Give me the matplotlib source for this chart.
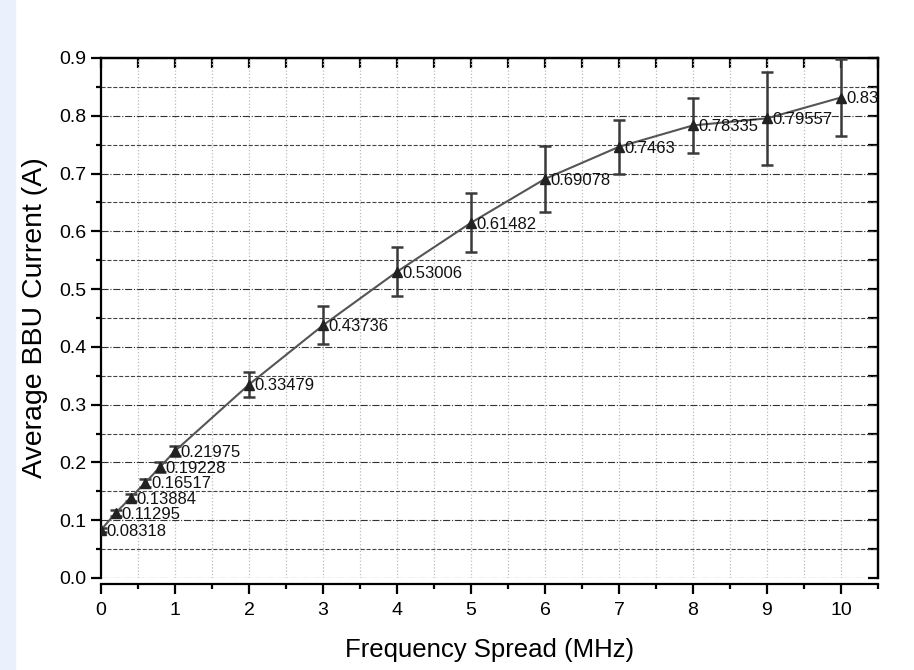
import numpy as np
import matplotlib
matplotlib.use("Agg")
import matplotlib.pyplot as plt
from matplotlib.patches import Rectangle
from matplotlib.ticker import MultipleLocator

plt.rcParams['font.family'] = ['Liberation Sans', 'DejaVu Sans']

# data
spread = [0, 0.2, 0.4, 0.6, 0.8, 1, 2, 3, 4, 5, 6, 7, 8, 9, 10]
current = [0.08318, 0.11295, 0.13884, 0.16517, 0.19228, 0.21975, 0.33479,
           0.43736, 0.53006, 0.61482, 0.69078, 0.7463, 0.78335, 0.79557, 0.83163]
errors = [0.004, 0.005, 0.006, 0.007, 0.008, 0.009, 0.022,
          0.033, 0.042, 0.051, 0.057, 0.047, 0.047, 0.080, 0.066]
labels = ['0.08318', '0.11295', '0.13884', '0.16517', '0.19228', '0.21975', '0.33479',
          '0.43736', '0.53006', '0.61482', '0.69078', '0.7463', '0.78335', '0.79557', '0.83163']

fig = plt.figure(figsize=(9.14, 6.70), dpi=100)
# light blue strip at the left edge
fig.patches.append(Rectangle((0, 0), 15 / 914, 1, transform=fig.transFigure,
                             color='#eaf1fc', zorder=0))
ax = fig.add_axes([101 / 914, 1 - 578 / 670, 777 / 914, 520 / 670])

ax.errorbar(spread, current, yerr=errors, fmt='none', ecolor='#3a3a3a',
            elinewidth=1.8, capsize=4.3, capthick=1.8, zorder=3)
ax.plot(spread, current, '-', color='#555555', lw=1.5, marker='^', ms=7,
        mfc='#222222', mec='#222222', zorder=4)

for xv, yv, s in zip(spread, current, labels):
    ax.annotate(s, (xv, yv), xytext=(4, -1), textcoords='offset points',
                ha='left', va='center', fontsize=12, color='#111111',
                clip_on=True, zorder=5)

ax.set_xlim(0, 10.5)
ax.set_ylim(0, 0.9)
ax.xaxis.set_major_locator(MultipleLocator(1))
ax.xaxis.set_minor_locator(MultipleLocator(0.5))
ax.yaxis.set_major_locator(MultipleLocator(0.1))
ax.yaxis.set_minor_locator(MultipleLocator(0.05))
ax.set_xticks([0, 1, 2, 3, 4, 5, 6, 7, 8, 9, 10])

# grid: x dotted light, y major dash-dot, y minor dashed
ax.grid(True, axis='x', which='both', color='#bbbbbb', ls=':', lw=0.9)
ax.grid(True, axis='y', which='major', color='#333333', ls='-.', lw=0.8)
ax.grid(True, axis='y', which='minor', color='#444444', ls='--', lw=0.8)
ax.set_axisbelow(True)

for sp in ax.spines.values():
    sp.set_linewidth(1.6)
ax.spines['bottom'].set_position(('outward', 4))

ax.tick_params(axis='both', which='major', direction='out', length=7, width=1.6,
               labelsize=14)
ax.tick_params(axis='x', which='major', pad=6)
ax.tick_params(axis='both', which='minor', direction='out', length=3.5, width=1.6)
ax.yaxis.set_major_formatter(matplotlib.ticker.FormatStrFormatter('%.1f'))

# inward ticks on top and right
top = ax.secondary_xaxis('top')
top.set_xticks(np.arange(0, 10.51, 0.5))
top.tick_params(direction='in', length=7, width=1.6, labeltop=False)
top.spines['top'].set_linewidth(1.6)
right = ax.secondary_yaxis('right')
right.set_yticks(np.arange(0, 0.91, 0.05))
right.tick_params(direction='in', length=7, width=1.6, labelright=False)
right.spines['right'].set_linewidth(1.6)

ax.set_xlabel('Frequency Spread (MHz)', fontsize=18.5, labelpad=14)
ax.set_ylabel('Average BBU Current (A)', fontsize=20.5, labelpad=8)

fig.savefig('out.png', dpi=100)
